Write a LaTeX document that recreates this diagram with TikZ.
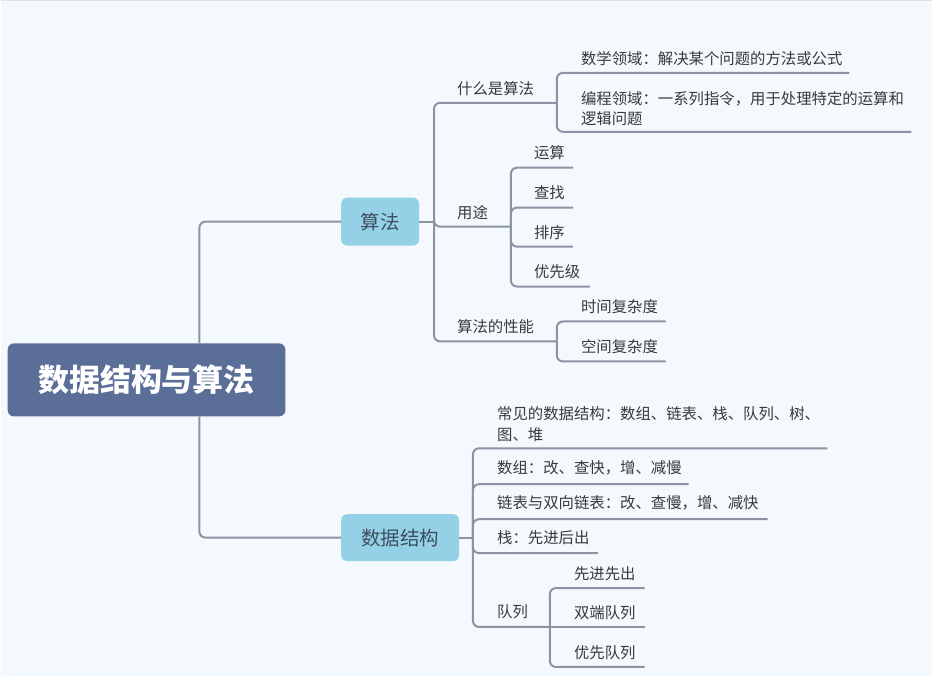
\documentclass[tikz,border=0pt]{standalone}
\usepackage{fontspec}
\setmainfont{Noto Sans CJK SC}
\definecolor{bgC}{HTML}{F4F9FD}
\definecolor{topC}{HTML}{DDE3EA}
\definecolor{lineC}{HTML}{8C94A4}
\definecolor{rootC}{HTML}{5B6E97}
\definecolor{midC}{HTML}{94D1E6}
\definecolor{midT}{HTML}{3E4E60}
\definecolor{txtC}{HTML}{3A3A3A}
\begin{document}
\begin{tikzpicture}[x=1pt,y=-1pt,
  conn/.style={draw=lineC, line width=2pt, rounded corners=6pt},
  leaf/.style={anchor=west, inner sep=0pt, font=\fontsize{15.4}{20}\selectfont, text=txtC, align=left},
  mid/.style={fill=midC, rounded corners=6pt, text=midT, font=\fontsize{19.5}{22}\selectfont, inner sep=0pt}]
\fill[bgC] (0,0) rectangle (933,677);
\draw[topC, line width=1.5pt] (0,0.75) -- (933,0.75);
\useasboundingbox (0,0) rectangle (933,677);

% main nodes
\node[fill=rootC, rounded corners=6pt, minimum width=278pt, minimum height=73pt, inner sep=0pt,
      text=white, font=\fontsize{31}{34}\selectfont\bfseries] (root) at (146,380.5) {数据结构与算法};
\node[mid, minimum width=78pt, minimum height=48pt] (alg) at (380,222) {算法};
\node[mid, minimum width=118pt, minimum height=47pt] (ds) at (400,538.5) {数据结构};

% junctions
\coordinate (rj) at (199,380);
\coordinate (aj) at (434,222);
\coordinate (dj) at (473,538.5);

% leaf texts, algorithm side
\node[leaf] (L1) at (457,89) {什么是算法};
\node[leaf] (L11) at (581,59) {数学领域：解决某个问题的方法或公式};
\node[leaf] (L12) at (581,108.5) {编程领域：一系列指令，用于处理特定的运算和\\逻辑问题};
\node[leaf] (L2) at (457,213) {用途};
\node[leaf] (L21) at (534,153) {运算};
\node[leaf] (L22) at (534,193) {查找};
\node[leaf] (L23) at (534,233) {排序};
\node[leaf] (L24) at (534,272) {优先级};
\node[leaf] (L3) at (457,327) {算法的性能};
\node[leaf] (L31) at (581,307) {时间复杂度};
\node[leaf] (L32) at (581,347) {空间复杂度};

% leaf texts, data structure side
\node[leaf] (D1) at (497,424.5) {常见的数据结构：数组、链表、栈、队列、树、\\[1pt]图、堆};
\node[leaf] (D2) at (497,469) {数组：改、查快，增、减慢};
\node[leaf] (D3) at (497,504) {链表与双向链表：改、查慢，增、减快};
\node[leaf] (D4) at (497,539) {栈：先进后出};
\node[leaf] (D5) at (497,613) {队列};
\node[leaf] (D51) at (574,575) {先进先出};
\node[leaf] (D52) at (574,614) {双端队列};
\node[leaf] (D53) at (574,654) {优先队列};

% underline end points
\coordinate (u1) at (557,103);
\coordinate (u11) at (850,73);
\coordinate (u12) at (912,132);
\coordinate (u2) at (511,227);
\coordinate (u21) at (573,168);
\coordinate (u22) at (573,208);
\coordinate (u23) at (573,247);
\coordinate (u24) at (590,287);
\coordinate (u3) at (557,342);
\coordinate (u31) at (666,322);
\coordinate (u32) at (666,362);
\coordinate (v1) at (828,449);
\coordinate (v2) at (689,485);
\coordinate (v3) at (768,520);
\coordinate (v4) at (598,554);
\coordinate (v5) at (550,628);
\coordinate (v51) at (645,589);
\coordinate (v52) at (645,628);
\coordinate (v53) at (645,668);

% root connectors
\draw[conn] (rj |- root.north) |- (alg.west);
\draw[conn] (rj |- root.south) |- (ds.west);

% algorithm branch
\draw[conn] (alg.east) -- (aj);
\draw[conn] (aj) |- (u1);
\draw[conn] (aj) |- (u2);
\draw[conn] (aj) |- (u3);
\draw[conn] (u1) |- (u11);
\draw[conn] (u1) |- (u12);
\draw[conn] (u2) |- (u21);
\draw[conn] (u2) |- (u22);
\draw[conn] (u2) |- (u23);
\draw[conn] (u2) |- (u24);
\draw[conn] (u3) |- (u31);
\draw[conn] (u3) |- (u32);

% data structure branch
\draw[conn] (ds.east) -- (dj);
\draw[conn] (dj) |- (v1);
\draw[conn] (dj) |- (v2);
\draw[conn] (dj) |- (v3);
\draw[conn] (dj) |- (v4);
\draw[conn] (dj) |- (v5);
\draw[conn] (v5) |- (v51);
\draw[conn] (v5) -- (v52);
\draw[conn] (v5) |- (v53);
\end{tikzpicture}
\end{document}
